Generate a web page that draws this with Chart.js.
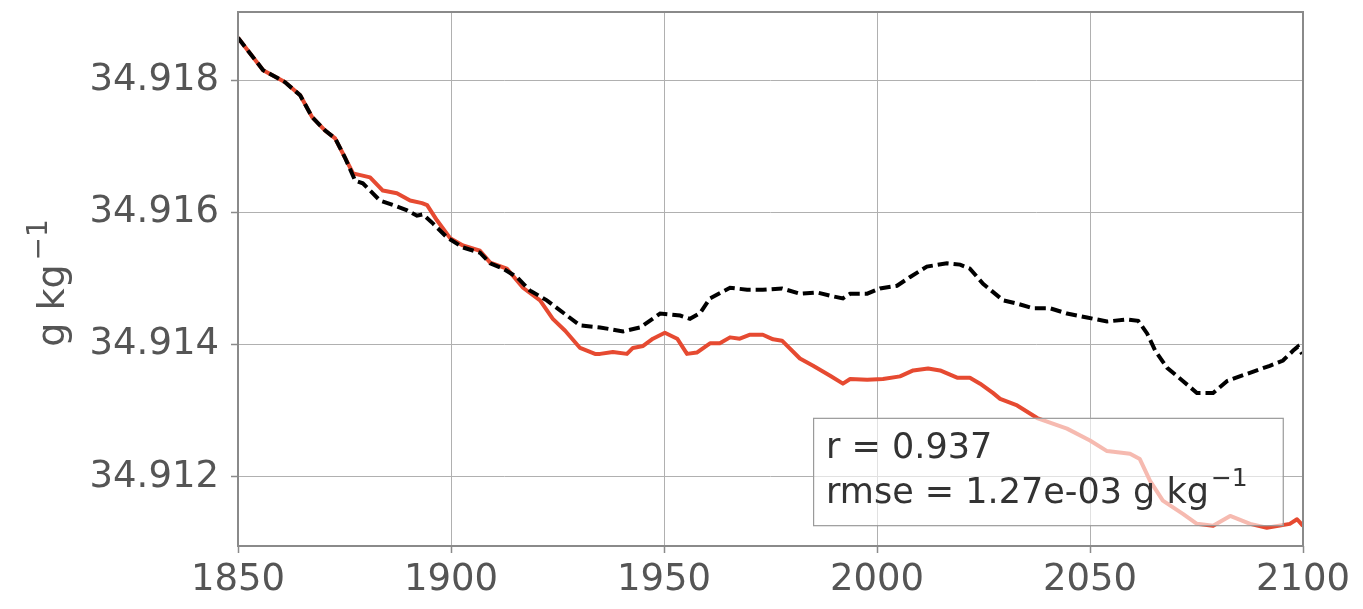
<!DOCTYPE html>
<html>
<head>
<meta charset="utf-8">
<script src="https://cdn.jsdelivr.net/npm/chart.js@4/dist/chart.umd.min.js"></script>
<style>
html,body{margin:0;padding:0;background:#fff;}
#wrap{width:1363px;height:609px;}
</style>
</head>
<body>
<div id="wrap"><canvas id="c" width="1363" height="609"></canvas></div>
<script>
const yearsRed = [1850,1855.9,1861.0,1864.6,1867.4,1870.4,1872.8,1875.1,1877.0,1881.0,1884.0,1887.3,1890.4,1893.2,1894.4,1896.7,1899.8,1902.8,1906.8,1909.2,1913.1,1916.9,1920.9,1923.9,1926.8,1930.3,1933.8,1935.0,1938.0,1941.3,1942.7,1945.1,1947.4,1950.2,1953.1,1955.4,1957.7,1960.8,1963.1,1965.5,1967.8,1970.2,1973.2,1975.6,1977.7,1981.9,1985.0,1989.0,1992.0,1993.7,1997.7,2001.4,2005.4,2008.5,2012.0,2014.8,2018.8,2021.8,2024.2,2027.2,2028.9,2032.9,2037.6,2040.6,2044.6,2050.0,2054.0,2059.4,2061.7,2064.1,2067.1,2071.8,2075.1,2078.9,2082.9,2087.6,2091.5,2096.9,2098.6,2100];
const redValues = [34.91864,34.91815,34.91797,34.91777,34.91744,34.91724,34.91712,34.91683,34.91659,34.91653,34.91633,34.91629,34.91618,34.91614,34.91611,34.91588,34.91561,34.91550,34.91542,34.91524,34.91515,34.91486,34.91467,34.91439,34.91421,34.91395,34.91386,34.91386,34.91389,34.91386,34.91395,34.91398,34.91409,34.91418,34.91409,34.91386,34.91388,34.91402,34.91402,34.91411,34.91409,34.91415,34.91415,34.91408,34.91406,34.91379,34.91368,34.91353,34.91341,34.91348,34.91347,34.91348,34.91352,34.91361,34.91364,34.91361,34.91350,34.91350,34.91341,34.91327,34.91318,34.91308,34.91289,34.91282,34.91273,34.91255,34.91239,34.91235,34.91227,34.91194,34.91164,34.91144,34.91129,34.91126,34.91141,34.91129,34.91123,34.91129,34.91136,34.91126];
const yearsBlack = [1850,1855.9,1861.0,1864.6,1867.4,1870.4,1872.8,1875.1,1877.5,1879.3,1883.3,1886.4,1889.7,1892.0,1893.4,1895.8,1899.1,1902.8,1906.8,1909.2,1912.2,1915.5,1918.5,1922.5,1927.2,1930.3,1935.0,1940.4,1944.4,1949.1,1953.8,1956.1,1958.5,1960.8,1965.5,1969.5,1973.2,1977.7,1981.9,1985.9,1989.7,1992.0,1993.7,1997.7,2000.7,2004.7,2007.7,2011.7,2016.4,2019.5,2021.8,2024.9,2029.6,2032.9,2036.6,2040.6,2044.6,2049.3,2054.0,2058.7,2061.3,2063.4,2065.3,2068.1,2071.8,2075.1,2078.9,2082.2,2086.9,2092.2,2095.3,2097.7,2098.8,2099.8];
const blackValues = [34.91864,34.91815,34.91797,34.91777,34.91744,34.91724,34.91712,34.91683,34.91648,34.91644,34.91618,34.91611,34.91603,34.91595,34.91597,34.91583,34.91562,34.91547,34.91539,34.91523,34.91515,34.91502,34.91482,34.91467,34.91444,34.91429,34.91426,34.91420,34.91426,34.91447,34.91444,34.91439,34.91448,34.91470,34.91486,34.91483,34.91483,34.91485,34.91477,34.91479,34.91473,34.91470,34.91477,34.91477,34.91485,34.91489,34.91502,34.91518,34.91523,34.91521,34.91515,34.91492,34.91467,34.91462,34.91455,34.91455,34.91447,34.91441,34.91435,34.91438,34.91436,34.91417,34.91391,34.91365,34.91345,34.91327,34.91327,34.91345,34.91356,34.91368,34.91376,34.91391,34.91397,34.91386];
const xTicks = [1850,1900,1950,2000,2050,2100];
const yTicks = [34.912,34.914,34.916,34.918];
const statLines = ["r = 0.937", "rmse = 1.27e-03 g kg"];
const yUnit = ["g kg", "\u22121"];

const FONT = "'DejaVu Sans', sans-serif";
const TICK_COLOR = '#555555';

const overlay = {
  id: 'overlay',
  afterDatasetsDraw(chart) {
    const {ctx, chartArea: a} = chart;
    const w = a.right - a.left, h = a.bottom - a.top;
    const bx = a.left + 0.54 * w, by = a.top + 0.760 * h;
    const bw = 0.441 * w, bh = 0.201 * h;
    ctx.save();
    ctx.fillStyle = 'rgba(255,255,255,0.62)';
    ctx.fillRect(bx, by, bw, bh);
    ctx.strokeStyle = '#9a9a9a';
    ctx.lineWidth = 1.2;
    ctx.strokeRect(bx + 0.5, by + 0.5, bw, bh);
    ctx.fillStyle = '#333333';
    ctx.textBaseline = 'alphabetic';
    ctx.textAlign = 'left';
    ctx.font = `35px ${FONT}`;
    ctx.fillText(statLines[0], bx + 13, by + 40);
    ctx.fillText(statLines[1], bx + 13, by + 85);
    const tw = ctx.measureText(statLines[1]).width;
    ctx.font = `25px ${FONT}`;
    ctx.fillText(yUnit[1], bx + 15 + tw, by + 68);
    ctx.restore();
  },
  afterDraw(chart) {
    const {ctx, chartArea: a} = chart;
    ctx.save();
    ctx.strokeStyle = '#8a8a8a';
    ctx.lineWidth = 2;
    ctx.strokeRect(a.left, a.top, a.right - a.left, a.bottom - a.top);
    const cy = (a.top + a.bottom) / 2 + 4;
    ctx.translate(64, cy);
    ctx.rotate(-Math.PI / 2);
    ctx.fillStyle = TICK_COLOR;
    ctx.font = `38px ${FONT}`;
    const w1 = ctx.measureText(yUnit[0]).width;
    ctx.font = `28px ${FONT}`;
    const w2 = ctx.measureText(yUnit[1]).width;
    const start = -(w1 + w2 + 4) / 2;
    ctx.textAlign = 'left';
    ctx.textBaseline = 'alphabetic';
    ctx.font = `38px ${FONT}`;
    ctx.fillText(yUnit[0], start, 0);
    ctx.font = `28px ${FONT}`;
    ctx.fillText(yUnit[1], start + w1 + 4, -17);
    ctx.restore();
  }
};

new Chart(document.getElementById('c'), {
  type: 'line',
  data: {
    datasets: [
      {
        data: yearsRed.map((x, i) => ({x, y: redValues[i]})),
        borderColor: '#e64a31',
        borderWidth: 4,
        pointRadius: 0,
        tension: 0,
        borderJoinStyle: 'round',
        order: 2
      },
      {
        data: yearsBlack.map((x, i) => ({x, y: blackValues[i]})),
        borderColor: '#000000',
        borderWidth: 4,
        borderDash: [11, 5],
        pointRadius: 0,
        tension: 0,
        order: 1
      }
    ]
  },
  options: {
    responsive: false,
    animation: false,
    events: [],
    layout: { padding: { left: 0, right: 60, top: 12, bottom: 0 } },
    plugins: { legend: { display: false }, tooltip: { enabled: false }, title: { display: false } },
    scales: {
      x: {
        type: 'linear',
        min: 1850, max: 2100,
        afterBuildTicks(s) { s.ticks = xTicks.map(v => ({value: v})); },
        afterFit(s) { s.height = 63; s.paddingLeft = 0; s.paddingRight = 0; },
        ticks: { color: TICK_COLOR, font: { family: FONT, size: 37 }, padding: 5, maxRotation: 0, autoSkip: false,
                 callback: v => String(v) },
        grid: { color: '#b0b0b0', lineWidth: 1, tickLength: 7, tickColor: '#8a8a8a', tickWidth: 1.5 },
        border: { display: false }
      },
      y: {
        type: 'linear',
        min: 34.910955, max: 34.91903,
        afterBuildTicks(s) { s.ticks = yTicks.map(v => ({value: v})); },
        afterFit(s) { s.width = 238; s.paddingTop = 0; s.paddingBottom = 0; },
        ticks: { color: TICK_COLOR, font: { family: FONT, size: 37 }, padding: 12, autoSkip: false,
                 callback: v => Number(v).toFixed(3) },
        grid: { color: '#b0b0b0', lineWidth: 1, tickLength: 7, tickColor: '#8a8a8a', tickWidth: 1.5 },
        border: { display: false }
      }
    }
  },
  plugins: [overlay]
});
</script>
</body>
</html>
